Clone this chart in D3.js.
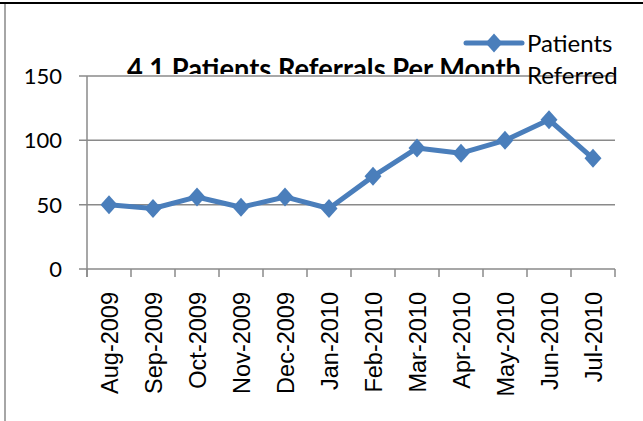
<!DOCTYPE html>
<html>
<head>
<meta charset="utf-8">
<script src="https://cdn.jsdelivr.net/npm/d3@7"></script>
<style>
  body { margin: 0; background: #fff; }
  svg { display: block; }
</style>
</head>
<body>
<div id="plot-container"></div>
<script>
// data
var months = ["Aug-2009", "Sep-2009", "Oct-2009", "Nov-2009", "Dec-2009", "Jan-2010",
              "Feb-2010", "Mar-2010", "Apr-2010", "May-2010", "Jun-2010", "Jul-2010"]
var referred = [50, 47, 56, 48, 56, 47, 72, 94, 90, 100, 116, 86]
var yTicks = [0, 50, 100, 150]
var seriesName = ["Patients", "Referred"]
var title = "4.1 Patients Referrals Per Month"

var W = 643, H = 421
// plot area edges (note: "top" is reserved on window, so use other names)
var plotLeft = 87, plotRight = 615, plotTop = 76, plotBottom = 269

var blue = "#4a7ebb"
var grey = "#8a8a8a"

var svg = d3.select("#plot-container").append("svg")
  .attr("width", W).attr("height", H)

// frame of the embedded chart
svg.append("line").attr("x1", 0).attr("x2", W).attr("y1", 3).attr("y2", 3)
  .attr("stroke", "#000").attr("stroke-width", 2)
svg.append("line").attr("x1", 5).attr("x2", 5).attr("y1", 4).attr("y2", H)
  .attr("stroke", "#a6a6a6").attr("stroke-width", 2)

// scales
var xScale = d3.scaleBand().domain(months).range([plotLeft, plotRight])
var yScale = d3.scaleLinear().domain([0, 150]).range([plotBottom, plotTop])

// title (the plot area is painted over its lower part, as in the original)
svg.append("text")
  .attr("x", 127).attr("y", 79)
  .attr("textLength", 394).attr("lengthAdjust", "spacingAndGlyphs")
  .style("font-family", "Lato, 'Open Sans', sans-serif")
  .style("font-weight", "bold").style("font-size", "29px")
  .text(title)

svg.append("rect")
  .attr("x", plotLeft).attr("y", 74)
  .attr("width", plotRight - plotLeft).attr("height", plotBottom - 74)
  .attr("fill", "#fff")

// gridlines + y labels
svg.append("g").selectAll("line").data(yTicks).enter().append("line")
  .attr("x1", 79).attr("x2", plotRight)
  .attr("y1", d => yScale(d)).attr("y2", d => yScale(d))
  .attr("stroke", grey).attr("stroke-width", 1.5)

svg.append("g").selectAll("text").data(yTicks).enter().append("text")
  .attr("x", 62).attr("y", d => yScale(d) + 8)
  .attr("text-anchor", "end")
  .style("font-family", "Lato, sans-serif").style("font-size", "22px")
  .text(d => d)

// y axis line
svg.append("line").attr("x1", plotLeft).attr("x2", plotLeft)
  .attr("y1", plotTop).attr("y2", plotBottom + 8)
  .attr("stroke", grey).attr("stroke-width", 1.5)

// tick marks between categories
var edges = months.map(m => xScale(m)).concat([plotRight])
svg.append("g").selectAll("line").data(edges).enter().append("line")
  .attr("x1", d => d).attr("x2", d => d)
  .attr("y1", plotBottom).attr("y2", plotBottom + 8)
  .attr("stroke", grey).attr("stroke-width", 1.5)

// x labels, rotated
var bw = xScale.bandwidth()
svg.append("g").selectAll("text").data(months).enter().append("text")
  .attr("transform", d => "translate(" + (xScale(d) + bw / 2 + 9) + "," + 292 + ") rotate(-90)")
  .attr("text-anchor", "end")
  .style("font-family", "'Liberation Sans', Arial, sans-serif").style("font-size", "23.5px")
  .text(d => d)

// series line
var line = d3.line()
  .x((d, i) => xScale(months[i]) + bw / 2)
  .y(d => yScale(d))

svg.append("path").datum(referred)
  .attr("d", line)
  .attr("fill", "none").attr("stroke", blue)
  .attr("stroke-width", 5).attr("stroke-linejoin", "round")

var diamond = "M0,-9.5L8.5,0L0,9.5L-8.5,0Z"
svg.append("g").selectAll("path").data(referred).enter().append("path")
  .attr("d", diamond)
  .attr("transform", (d, i) => "translate(" + (xScale(months[i]) + bw / 2) + "," + yScale(d) + ")")
  .attr("fill", blue)

// legend
svg.append("line").attr("x1", 466).attr("x2", 522).attr("y1", 43).attr("y2", 43)
  .attr("stroke", blue).attr("stroke-width", 5).attr("stroke-linecap", "round")
svg.append("path").attr("d", diamond).attr("transform", "translate(494,43)").attr("fill", blue)

svg.append("g").selectAll("text").data(seriesName).enter().append("text")
  .attr("x", 527).attr("y", (d, i) => 52 + i * 32)
  .style("font-family", "Lato, sans-serif").style("font-size", "24px")
  .text(d => d)
</script>
</body>
</html>
